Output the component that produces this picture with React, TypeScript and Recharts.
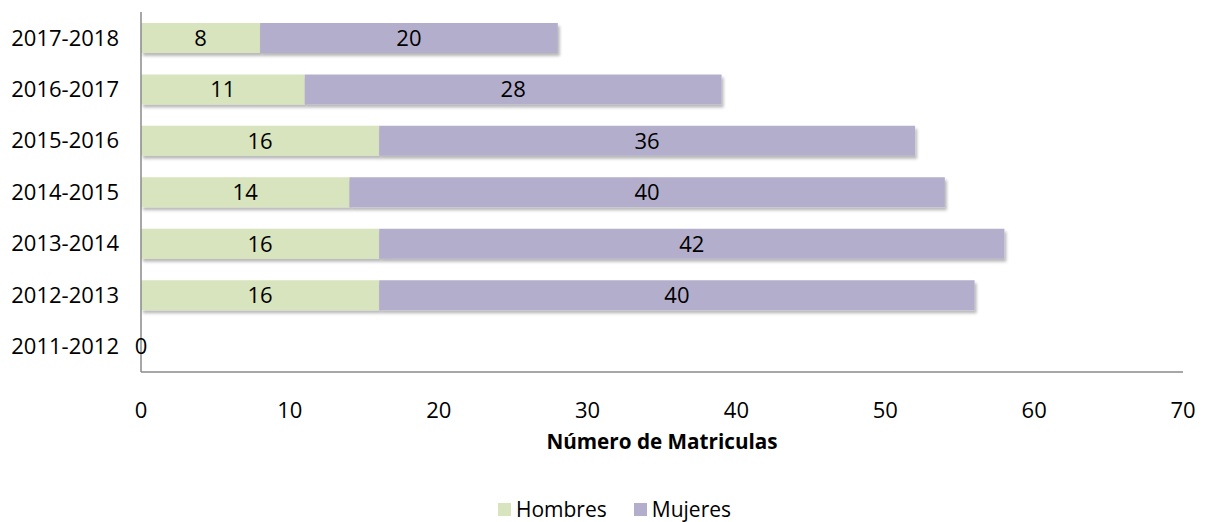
import { BarChart, Bar, XAxis, YAxis, Legend, LabelList, Rectangle } from 'recharts'

const years = ['2017-2018', '2016-2017', '2015-2016', '2014-2015', '2013-2014', '2012-2013', '2011-2012']
const hombres = [8, 11, 16, 14, 16, 16, 0]
const mujeres: (number | null)[] = [20, 28, 36, 40, 42, 40, null]
const xTicks = [0, 10, 20, 30, 40, 50, 60, 70]

const GREEN = '#d7e4bd'
const PURPLE = '#b3aecb'
const FONT = '"Open Sans", sans-serif'

const data = years.map((y, i) => ({ year: y, Hombres: hombres[i], Mujeres: mujeres[i] }))

// bars carry a soft drop shadow like the original
const ShadowBar = (props: any) => <Rectangle {...props} filter="url(#barShadow)" />

function LegendContent({ payload }: any) {
  return (
    <div style={{ display: 'flex', justifyContent: 'center', gap: '27px', paddingLeft: '46px', paddingTop: '6px', fontFamily: FONT, fontSize: '21px', lineHeight: '22px', color: '#000' }}>
      {(payload || []).map((p: any) => (
        <div key={p.value} style={{ display: 'flex', alignItems: 'center', gap: '5px' }}>
          <span style={{ width: '13px', height: '13px', background: p.color, display: 'inline-block' }} />
          <span>{p.value}</span>
        </div>
      ))}
    </div>
  )
}

function App() {
  return (
    <div style={{ position: 'absolute', left: 0, top: 0, background: '#fff' }}>
      <BarChart
        width={1206}
        height={522}
        data={data}
        layout="vertical"
        barSize={30}
        margin={{ top: 12, right: 23, bottom: 0, left: 0 }}
      >
        <defs>
          <filter id="barShadow" x="-5%" y="-30%" width="115%" height="180%">
            <feDropShadow dx="2" dy="3" stdDeviation="1.5" floodColor="#000" floodOpacity="0.28" />
          </filter>
        </defs>
        <XAxis
          type="number"
          domain={[0, 70]}
          ticks={xTicks}
          tickLine={false}
          tickSize={0}
          tickMargin={30}
          height={120}
          axisLine={{ stroke: '#8a8a8a', strokeWidth: 1.5 }}
          tick={{ fill: '#000', fontSize: 22, fontFamily: FONT }}
          label={{ value: 'Número de Matriculas', position: 'insideBottom', offset: 43, fill: '#000', fontSize: 20.7, fontWeight: 700, fontFamily: FONT }}
        />
        <YAxis
          type="category"
          dataKey="year"
          width={141}
          tickLine={false}
          tickSize={0}
          tickMargin={22}
          axisLine={{ stroke: '#8a8a8a', strokeWidth: 1.5 }}
          tick={{ fill: '#000', fontSize: 22, fontFamily: FONT }}
        />
        <Legend verticalAlign="bottom" height={30} content={<LegendContent />} />
        <Bar dataKey="Hombres" stackId="a" fill={GREEN} isAnimationActive={false} shape={ShadowBar}>
          <LabelList dataKey="Hombres" position="center" fill="#000" fontSize={22} fontFamily={FONT} />
        </Bar>
        <Bar dataKey="Mujeres" stackId="a" fill={PURPLE} isAnimationActive={false} shape={ShadowBar}>
          <LabelList dataKey="Mujeres" position="center" fill="#000" fontSize={22} fontFamily={FONT} />
        </Bar>
      </BarChart>
    </div>
  )
}

export default App
